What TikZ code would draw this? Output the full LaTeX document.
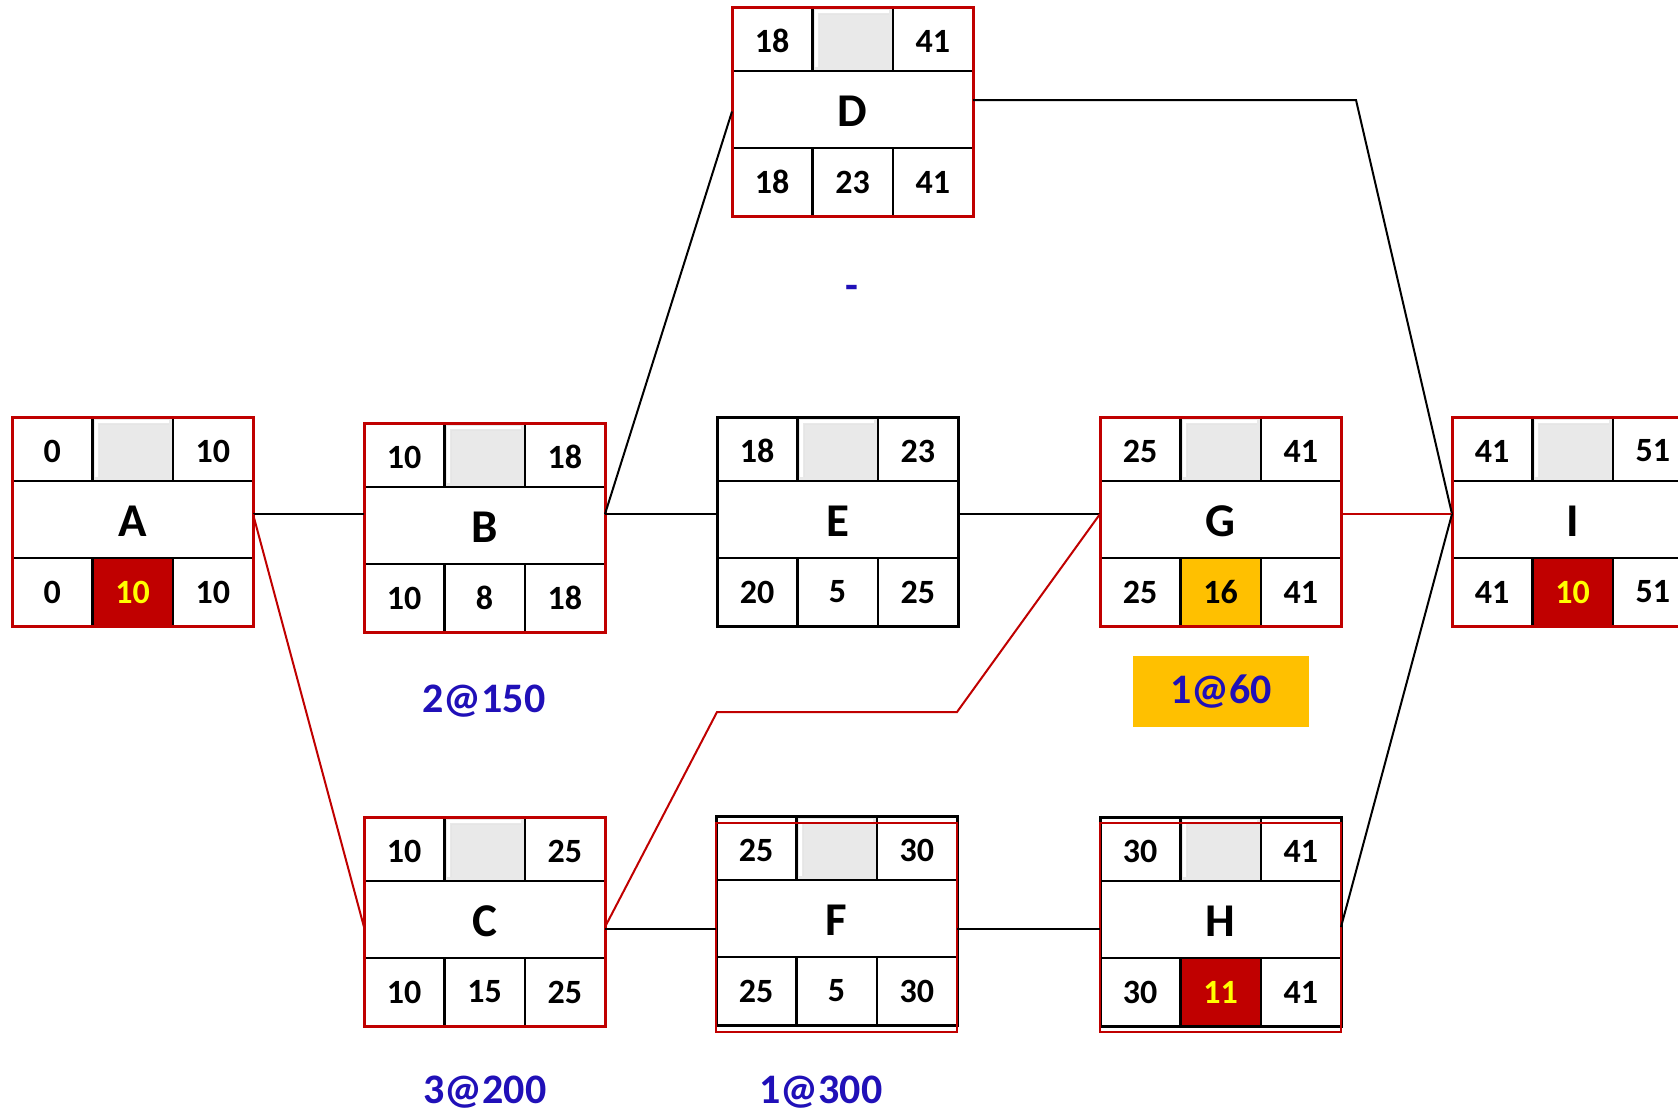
\documentclass[tikz,border=0pt]{standalone}
\usepackage{fontspec}
\setmainfont{Carlito}
\usetikzlibrary{calc}
\definecolor{critred}{HTML}{C00000}
\definecolor{slackorange}{HTML}{FFC000}
\definecolor{durtext}{HTML}{FFFF00}
\definecolor{labblue}{HTML}{2010B8}
\definecolor{cellgrey}{HTML}{E9E9E9}

\pgfkeys{/act/.cd,
  border/.store in=\actborder,
  mfill/.store in=\actmfill,
  mtext/.store in=\actmtext}

\tikzset{
  num/.style={inner sep=0pt, font=\bfseries\fontsize{34}{40}\selectfont},
  letr/.style={inner sep=0pt, font=\bfseries\fontsize{47}{54}\selectfont},
  lab/.style={inner sep=0pt, text=labblue, font=\bfseries\fontsize{42}{50}\selectfont},
  gridline/.style={draw=black, line width=2.4pt},
  actframe/.style={rectangle, minimum width=241pt, minimum height=209pt, inner sep=0pt, outer sep=0pt, line width=3pt},
  conn/.style={draw=black, line width=2pt},
  critconn/.style={draw=critred, line width=2pt},
}

\newcommand\actnode[9]{%
  \pgfkeys{/act/.cd,border=black,mfill=white,mtext=black,#9}%
  \begin{scope}[shift={(#2)}]
    \fill[white] (0,0) rectangle (241,209);
    \fill[fill=\actmfill] (80.3,141) rectangle (160.7,209);
    \fill[cellgrey] (80.3,0) rectangle (160.7,64);
    \draw[white, line width=2.5pt] (84.5,60) -- (84.5,4.5) -- (156.5,4.5);
    \draw[white!80!gray, line width=1pt] (87.5,60) -- (87.5,7.5) -- (156.5,7.5);
    \draw[gridline] (0,64) -- (241,64) (0,141) -- (241,141)
      (80.3,0) -- (80.3,64) (160.7,0) -- (160.7,64)
      (80.3,141) -- (80.3,209) (160.7,141) -- (160.7,209);
    \node[num] (#1-es) at (40.2,34) {#3};
    \node[num] (#1-ef) at (200.8,34) {#4};
    \node[letr] (#1-id) at (120.5,104) {#5};
    \node[num] (#1-ls) at (40.2,175) {#6};
    \node[num, text=\actmtext] (#1-du) at (120.5,175) {#7};
    \node[num] (#1-lf) at (200.8,175) {#8};
    \node[actframe, draw=\actborder] (#1) at (120.5,104.5) {};
  \end{scope}}

\begin{document}
\begin{tikzpicture}[x=1pt,y=-1pt]
\useasboundingbox (0,0) rectangle (1678,1112);
\clip (0,0) rectangle (1678,1112);
\fill[white] (0,0) rectangle (1678,1112);

% activity nodes
\actnode{A}{12,417}{0}{10}{A}{0}{10}{10}{border=critred,mfill=critred,mtext=durtext}
\actnode{B}{364,423}{10}{18}{B}{10}{8}{18}{border=critred}
\actnode{D}{732,7}{18}{41}{D}{18}{23}{41}{border=critred}
\actnode{E}{717,417}{18}{23}{E}{20}{5}{25}{border=black}
\actnode{G}{1100,417}{25}{41}{G}{25}{16}{41}{border=critred,mfill=slackorange}
\actnode{I}{1452,417}{41}{51}{I}{41}{10}{51}{border=critred,mfill=critred,mtext=durtext}
\actnode{C}{364,817}{10}{25}{C}{10}{15}{25}{border=critred}
\actnode{F}{716,816}{25}{30}{F}{25}{5}{30}{border=black}
\actnode{H}{1100,817}{30}{41}{H}{30}{11}{41}{border=black,mfill=critred,mtext=durtext}

% offset red frames on F and H
\node[actframe, draw=critred, line width=2.5pt, anchor=north west] (Fr) at (716,823) {};
\node[actframe, draw=critred, line width=2.5pt, anchor=north west] (Hr) at (1100,823) {};

% bend points
\coordinate (cg1) at (717,712);
\coordinate (cg2) at (957,712);
\coordinate (di) at (1356,100);

% connectors
\draw[conn] ([yshift=7.5pt]A.east) -- ([yshift=13.5pt]B.west);
\draw[critconn] ([yshift=7.5pt]A.east) -- ([yshift=-5.5pt]C.west);
\draw[conn] ([yshift=13.5pt]B.east) -- (D.west);
\draw[conn] ([yshift=13.5pt]B.east) -- ([yshift=7.5pt]E.west);
\draw[conn] ([yshift=7.5pt]E.east) -- ([yshift=7.5pt]G.west);
\draw[critconn] ([yshift=-5.5pt]C.east) -- (cg1) -- (cg2) -- ([yshift=7.5pt]G.west);
\draw[conn] ([yshift=-7.5pt]C.east) -- ([yshift=-8.5pt]F.west);
\draw[conn] ([yshift=-8.5pt]F.east) -- ([yshift=-7.5pt]H.west);
\draw[conn] ([yshift=11.5pt]D.east) -- (di) -- ([yshift=7.5pt]I.west);
\draw[critconn] ([yshift=7.5pt]G.east) -- ([yshift=7.5pt]I.west);
\draw[conn] ([yshift=-5.5pt]H.east) -- ([yshift=7.5pt]I.west);

% crash labels
\node[lab] (ld) at (852,292) {-};
\node[lab] (lb) at (484,701) {2@150};
\node[lab] (lc) at (485,1092) {3@200};
\node[lab] (lf) at (821,1092) {1@300};
\node[fill=slackorange, minimum width=176pt, minimum height=71pt, inner sep=0pt] (lgbox) at (1221,691.5) {};
\node[lab] (lg) at (lgbox.center) {1@60};
\end{tikzpicture}
\end{document}
